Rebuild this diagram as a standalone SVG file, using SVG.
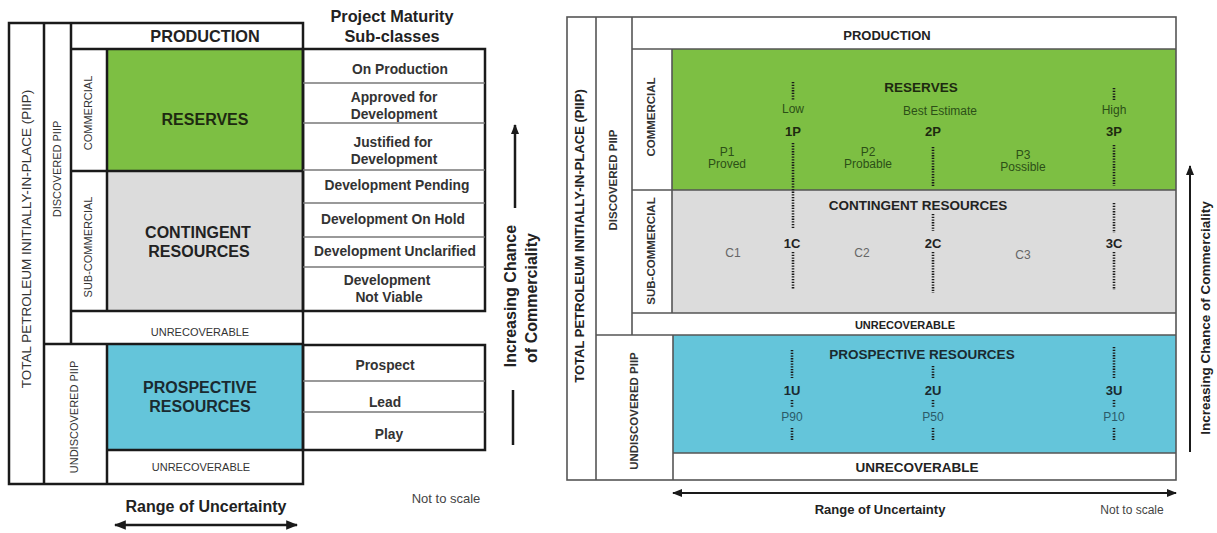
<svg xmlns="http://www.w3.org/2000/svg" width="1217" height="533" viewBox="0 0 1217 533">
<style>
text{font-family:"Liberation Sans",Arial,sans-serif;text-anchor:middle}
.b{font-weight:bold}
.thick{stroke:#1a1a1a;stroke-width:2.5;fill:none}
.thin{stroke:#777;stroke-width:1.5;fill:none}
.rl{stroke:#555;stroke-width:1.6;fill:none}
.dot{stroke:#1a1a1a;stroke-width:2.6;stroke-dasharray:1.3 1.4;fill:none}
.g{fill:#7dbf43}.gr{fill:#dcdcdc}.bl{fill:#64c5da}
.dg{fill:#2c4f17}.lg{fill:#333}
</style>
<defs>
<marker id="ah" viewBox="0 0 10 10" refX="9" refY="5" markerWidth="10" markerHeight="10" markerUnits="userSpaceOnUse" orient="auto-start-reverse"><path d="M0,1 L10,5 L0,9 Z" fill="#1a1a1a"/></marker>
<marker id="ah2" viewBox="0 0 10 10" refX="9" refY="5" markerWidth="12" markerHeight="12" markerUnits="userSpaceOnUse" orient="auto-start-reverse"><path d="M0,1 L10,5 L0,9 Z" fill="#1a1a1a"/></marker>
</defs>
<rect width="1217" height="533" fill="#fff"/>

<!-- LEFT DIAGRAM -->
<g id="left-fills">
<rect class="g" x="107" y="49" width="196" height="122"/>
<rect class="gr" x="107" y="171" width="196" height="140"/>
<rect class="bl" x="107" y="345" width="196" height="105"/>
</g>
<g id="left-lines">
<rect class="thick" x="9" y="23" width="294" height="461"/>
<line class="thick" x1="44" y1="23" x2="44" y2="484"/>
<line class="thick" x1="71" y1="23" x2="71" y2="344"/>
<line class="thick" x1="71" y1="49" x2="303" y2="49"/>
<line class="thick" x1="107" y1="49" x2="107" y2="311"/>
<line class="thick" x1="71" y1="171" x2="303" y2="171"/>
<line class="thick" x1="71" y1="311" x2="303" y2="311"/>
<line class="thick" x1="44" y1="344" x2="303" y2="344"/>
<line class="thick" x1="107" y1="344" x2="107" y2="484"/>
<line class="thick" x1="107" y1="450" x2="303" y2="450"/>
</g>
<g id="left-subclass-table">
<rect class="thick" x="303" y="49" width="182" height="262"/>
<line class="thin" x1="303" y1="83" x2="485" y2="83"/>
<line class="thin" x1="303" y1="123" x2="485" y2="123"/>
<line class="thin" x1="303" y1="170" x2="485" y2="170" stroke-width="2"/>
<line class="thin" x1="303" y1="203" x2="485" y2="203"/>
<line class="thin" x1="303" y1="237" x2="485" y2="237"/>
<line class="thin" x1="303" y1="267" x2="485" y2="267"/>
<rect class="thick" x="303" y="345" width="182" height="105"/>
<line class="thin" x1="303" y1="381" x2="485" y2="381"/>
<line class="thin" x1="303" y1="412" x2="485" y2="412"/>
</g>
<g id="left-labels">
<text x="27" y="239" font-size="13.5" fill="#333" transform="rotate(-90 27 239)" dominant-baseline="middle">TOTAL PETROLEUM INITIALLY-IN-PLACE (PIIP)</text>
<text x="58" y="169" font-size="11" fill="#333" transform="rotate(-90 58 169)" dominant-baseline="middle">DISCOVERED PIIP</text>
<text x="89" y="113" font-size="11" fill="#333" transform="rotate(-90 89 113)" dominant-baseline="middle">COMMERCIAL</text>
<text x="89" y="247" font-size="11" fill="#333" transform="rotate(-90 89 247)" dominant-baseline="middle">SUB-COMMERCIAL</text>
<text x="75" y="417" font-size="11" fill="#333" transform="rotate(-90 75 417)" dominant-baseline="middle">UNDISCOVERED PIIP</text>
<text class="b" x="205" y="42" font-size="16.3" fill="#222">PRODUCTION</text>
<text class="b" x="205" y="125" font-size="16" fill="#1d2a10">RESERVES</text>
<text class="b" x="198" y="238" font-size="16" fill="#222">CONTINGENT</text>
<text class="b" x="199" y="257" font-size="16" fill="#222">RESOURCES</text>
<text x="200" y="336" font-size="11" fill="#333">UNRECOVERABLE</text>
<text class="b" x="200" y="393" font-size="16" fill="#1a2a30">PROSPECTIVE</text>
<text class="b" x="200" y="412" font-size="16" fill="#1a2a30">RESOURCES</text>
<text x="201" y="471" font-size="11" fill="#333">UNRECOVERABLE</text>
</g>
<g id="left-subclass-labels" font-size="13.8" fill="#333">
<text class="b" x="392" y="22" font-size="16.3" fill="#222">Project Maturity</text>
<text class="b" x="392" y="42" font-size="16.3" fill="#222">Sub-classes</text>
<text class="b" x="400" y="74">On Production</text>
<text class="b" x="394" y="102">Approved for</text>
<text class="b" x="394" y="119">Development</text>
<text class="b" x="393" y="147">Justified for</text>
<text class="b" x="394" y="164">Development</text>
<text class="b" x="397" y="190">Development Pending</text>
<text class="b" x="393" y="224">Development On Hold</text>
<text class="b" x="395" y="256">Development Unclarified</text>
<text class="b" x="387" y="285">Development</text>
<text class="b" x="389" y="302">Not Viable</text>
<text class="b" x="385" y="370">Prospect</text>
<text class="b" x="385" y="407">Lead</text>
<text class="b" x="389" y="439">Play</text>
</g>
<g id="left-arrows">
<line x1="515" y1="208" x2="515" y2="125" stroke="#1a1a1a" stroke-width="2.5" marker-end="url(#ah)"/>
<line x1="513" y1="390" x2="513" y2="445" stroke="#1a1a1a" stroke-width="2.5"/>
<line x1="115" y1="525" x2="297" y2="525" stroke="#1a1a1a" stroke-width="2.5" marker-start="url(#ah2)" marker-end="url(#ah2)"/>
</g>
<g id="left-axis-labels">
<text class="b" x="512" y="296" font-size="16" fill="#222" transform="rotate(-90 512 296)" dominant-baseline="middle">Increasing Chance</text>
<text class="b" x="533" y="298" font-size="16" fill="#222" transform="rotate(-90 533 298)" dominant-baseline="middle">of Commerciality</text>
<text class="b" x="206" y="512" font-size="16" fill="#222">Range of Uncertainty</text>
<text x="446" y="503" font-size="13" fill="#444">Not to scale</text>
</g>

<!-- RIGHT DIAGRAM -->
<g id="right-fills">
<rect class="g" x="672" y="49" width="504" height="141"/>
<rect class="gr" x="672" y="190" width="504" height="123"/>
<rect class="bl" x="673" y="335" width="503" height="118"/>
</g>
<g id="right-lines">
<rect class="rl" x="567" y="17" width="609" height="463"/>
<line class="rl" x1="596" y1="17" x2="596" y2="480"/>
<line class="rl" x1="632" y1="17" x2="632" y2="335"/>
<line class="rl" x1="632" y1="49" x2="1176" y2="49"/>
<line class="rl" x1="672" y1="49" x2="672" y2="313"/>
<line class="rl" x1="632" y1="190" x2="1176" y2="190"/>
<line class="rl" x1="632" y1="313" x2="1176" y2="313"/>
<line class="rl" x1="596" y1="335" x2="1176" y2="335"/>
<line class="rl" x1="673" y1="335" x2="673" y2="480"/>
<line class="rl" x1="673" y1="453" x2="1176" y2="453"/>
</g>
<g id="right-dotted">
<line class="dot" x1="793" y1="82" x2="793" y2="101"/>
<line class="dot" x1="793" y1="143" x2="793" y2="229"/>
<line class="dot" x1="793" y1="252" x2="793" y2="289"/>
<line class="dot" x1="933" y1="147" x2="933" y2="186"/>
<line class="dot" x1="933" y1="214" x2="933" y2="231"/>
<line class="dot" x1="933" y1="252" x2="933" y2="293"/>
<line class="dot" x1="1114" y1="88" x2="1114" y2="101"/>
<line class="dot" x1="1114" y1="145" x2="1114" y2="186"/>
<line class="dot" x1="1114" y1="203" x2="1114" y2="233"/>
<line class="dot" x1="1114" y1="252" x2="1114" y2="290"/>
<line class="dot" x1="792" y1="350" x2="792" y2="378"/>
<line class="dot" x1="792" y1="400" x2="792" y2="408"/>
<line class="dot" x1="792" y1="428" x2="792" y2="440"/>
<line class="dot" x1="933" y1="366" x2="933" y2="378"/>
<line class="dot" x1="933" y1="400" x2="933" y2="408"/>
<line class="dot" x1="933" y1="428" x2="933" y2="440"/>
<line class="dot" x1="1114" y1="347" x2="1114" y2="378"/>
<line class="dot" x1="1114" y1="400" x2="1114" y2="408"/>
<line class="dot" x1="1114" y1="428" x2="1114" y2="440"/>
</g>
<g id="right-side-labels">
<text class="b" x="581" y="236" font-size="13" fill="#222" transform="rotate(-90 581 236)" dominant-baseline="middle">TOTAL PETROLEUM INITIALLY-IN-PLACE (PIIP)</text>
<text class="b" x="614" y="180" font-size="11.5" fill="#333" transform="rotate(-90 614 180)" dominant-baseline="middle">DISCOVERED PIIP</text>
<text class="b" x="652" y="117" font-size="11.5" fill="#333" transform="rotate(-90 652 117)" dominant-baseline="middle">COMMERCIAL</text>
<text class="b" x="652" y="251" font-size="11.5" fill="#333" transform="rotate(-90 652 251)" dominant-baseline="middle">SUB-COMMERCIAL</text>
<text class="b" x="635" y="411" font-size="11.5" fill="#333" transform="rotate(-90 635 411)" dominant-baseline="middle">UNDISCOVERED PIIP</text>
</g>
<g id="right-labels" font-size="12">
<text class="b" x="887" y="40" font-size="13" fill="#222">PRODUCTION</text>
<text class="b" x="921" y="92" font-size="13.5" fill="#1d2a10">RESERVES</text>
<text x="940" y="115" class="dg">Best Estimate</text>
<text x="793" y="113" class="dg">Low</text>
<text x="1114" y="114" class="dg">High</text>
<text class="b" x="793" y="136" font-size="13" fill="#1d2a10">1P</text>
<text class="b" x="933" y="136" font-size="13" fill="#1d2a10">2P</text>
<text class="b" x="1114" y="136" font-size="13" fill="#1d2a10">3P</text>
<text x="727" y="156" class="dg">P1</text>
<text x="727" y="168" class="dg">Proved</text>
<text x="868" y="156" class="dg">P2</text>
<text x="868" y="168" class="dg">Probable</text>
<text x="1023" y="159" class="dg">P3</text>
<text x="1023" y="171" class="dg">Possible</text>
<text class="b" x="918" y="210" font-size="13.5" fill="#222">CONTINGENT RESOURCES</text>
<text class="b" x="792" y="248" font-size="13" fill="#222">1C</text>
<text class="b" x="933" y="248" font-size="13" fill="#222">2C</text>
<text class="b" x="1114" y="248" font-size="13" fill="#222">3C</text>
<text x="733" y="257" fill="#666">C1</text>
<text x="862" y="257" fill="#666">C2</text>
<text x="1023" y="259" fill="#666">C3</text>
<text class="b" x="905" y="329" font-size="11" fill="#222">UNRECOVERABLE</text>
<text class="b" x="922" y="359" font-size="13.5" fill="#1a2a30">PROSPECTIVE RESOURCES</text>
<text class="b" x="792" y="395" font-size="13" fill="#1a2a30">1U</text>
<text class="b" x="933" y="395" font-size="13" fill="#1a2a30">2U</text>
<text class="b" x="1114" y="395" font-size="13" fill="#1a2a30">3U</text>
<text x="792" y="421" fill="#2a5a68">P90</text>
<text x="933" y="421" fill="#2a5a68">P50</text>
<text x="1114" y="421" fill="#2a5a68">P10</text>
<text class="b" x="917" y="472" font-size="13.5" fill="#222">UNRECOVERABLE</text>
</g>
<g id="right-arrows">
<line x1="673" y1="493" x2="1176" y2="493" stroke="#1a1a1a" stroke-width="2" marker-start="url(#ah)" marker-end="url(#ah)"/>
<line x1="1190" y1="452" x2="1190" y2="166" stroke="#1a1a1a" stroke-width="2" marker-end="url(#ah)"/>
</g>
<g id="right-axis-labels">
<text class="b" x="880" y="514" font-size="13" fill="#222">Range of Uncertainty</text>
<text x="1132" y="514" font-size="12" fill="#444">Not to scale</text>
<text class="b" x="1206" y="318" font-size="13.5" fill="#222" transform="rotate(-90 1206 318)" dominant-baseline="middle">Increasing Chance of Commerciality</text>
</g>
</svg>
